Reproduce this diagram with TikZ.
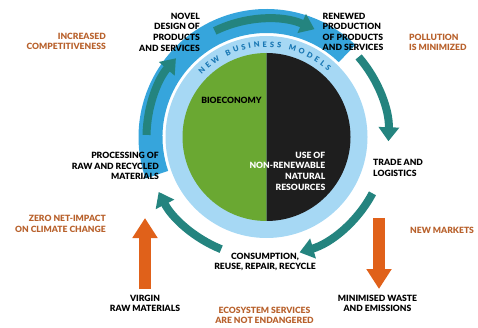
\documentclass[tikz,border=0pt]{standalone}
\usepackage{fontspec}
\setmainfont{Lato}[BoldFont={Lato Black}]
\usetikzlibrary{arrows.meta,calc,decorations.text}
\definecolor{ringblue}{HTML}{36A5DC}
\definecolor{lightring}{HTML}{A6D8F4}
\definecolor{biogreen}{HTML}{6AA832}
\definecolor{fossil}{HTML}{1E1E1E}
\definecolor{flowteal}{HTML}{24847F}
\definecolor{impact}{HTML}{E0611A}
\definecolor{benefit}{HTML}{B8612C}
\definecolor{modelblue}{HTML}{1A78B4}
\begin{document}
\begin{tikzpicture}[
    x=1pt, y=1pt,
    lbl/.style={font=\fontsize{8.6}{10.6}\selectfont\bfseries, inner sep=0pt, text=black},
    gain/.style={lbl, text=benefit},
    flow/.style={-{Triangle[width=20pt,length=14pt]}, line width=8pt, draw=flowteal},
    input/.style={-{Triangle[width=24pt,length=20pt]}, line width=12pt, draw=impact}
]
\useasboundingbox (0,0) rectangle (478,-328);
\coordinate (c) at (266.5,-137);

% rings and core
\fill[ringblue] ($(c)+(46:128)$) arc[start angle=46, end angle=199, radius=128]
    -- ($(c)+(199:104)$) arc[start angle=199, end angle=46, radius=104] -- cycle;
\fill[lightring] (c) circle[radius=101];
\fill[biogreen] ($(c)+(90:84)$) arc[start angle=90, end angle=270, radius=84] -- cycle;
\fill[fossil] ($(c)+(-90:84)$) arc[start angle=-90, end angle=90, radius=84] -- cycle;
\path[decorate, decoration={text along path, text align={fit to path},
    text={|\fontsize{7.5}{7.5}\selectfont\bfseries\color{modelblue}|NEW BUSINESS MODELS}}]
    ($(c)+(136:90)$) arc[start angle=136, end angle=47, radius=90];

% labels
\node[lbl] (bio) at (231.5,-100) {BIOECONOMY};
\node[lbl, text=white, anchor=east, align=right] (fossiluse) at (325.5,-171) {USE OF\\NON-RENEWABLE\\NATURAL\\RESOURCES};
\node[lbl, anchor=east, align=right] (design) at (200,-32) {NOVEL\\DESIGN OF\\PRODUCTS\\AND SERVICES};
\node[lbl, anchor=west, align=left] (produce) at (322.5,-32) {RENEWED\\PRODUCTION\\OF PRODUCTS\\AND SERVICES};
\node[lbl, anchor=west, align=left] (trade) at (373,-168) {TRADE AND\\LOGISTICS};
\node[lbl, align=center] (consume) at (265,-262) {CONSUMPTION,\\REUSE, REPAIR, RECYCLE};
\node[lbl, anchor=east, align=right] (process) at (159,-166) {PROCESSING OF\\RAW AND RECYCLED\\MATERIALS};
\node[lbl, align=center] (virgin) at (145,-303.5) {VIRGIN\\RAW MATERIALS};
\node[lbl, align=center] (waste) at (377.5,-303.5) {MINIMISED WASTE\\AND EMISSIONS};
\node[gain, anchor=east, align=right] (compete) at (106,-41.5) {INCREASED\\COMPETITIVENESS};
\node[gain, anchor=west, align=left] (pollution) at (409,-42.5) {POLLUTION\\IS MINIMIZED};
\node[gain, anchor=east, align=right] (climate) at (106,-224) {ZERO NET-IMPACT\\ON CLIMATE CHANGE};
\node[gain, anchor=west] (markets) at (410,-230) {NEW MARKETS};
\node[gain, align=center] (ecosystem) at (264.5,-315.5) {ECOSYSTEM SERVICES\\ARE NOT ENDANGERED};

% cycle arrows
\coordinate (toDesign) at ($(c)+(179:120)$);
\coordinate (toProduce) at ($(c)+(116:118)$);
\coordinate (toTrade) at ($(c)+(41:122)$);
\coordinate (toConsume) at ($(c)+(-28:120)$);
\coordinate (toProcess) at ($(c)+(-112:121)$);
\draw[flow] (toDesign) arc[start angle=179, end angle=139, radius=120];
\draw[flow] (toProduce) arc[start angle=116, end angle=66, radius=118];
\draw[flow] (toTrade) arc[start angle=41, end angle=-2, radius=122];
\draw[flow] (toConsume) arc[start angle=-28, end angle=-74, radius=120];
\draw[flow] (toProcess) arc[start angle=-112, end angle=-153, radius=121];

% inputs and outputs
\coordinate (virginTip) at (145,-218);
\coordinate (wasteTip) at (379,-289);
\draw[input] (virgin.north) ++(0,6) -- (virginTip);
\draw[input] (379,-218) -- (wasteTip);
\end{tikzpicture}
\end{document}
